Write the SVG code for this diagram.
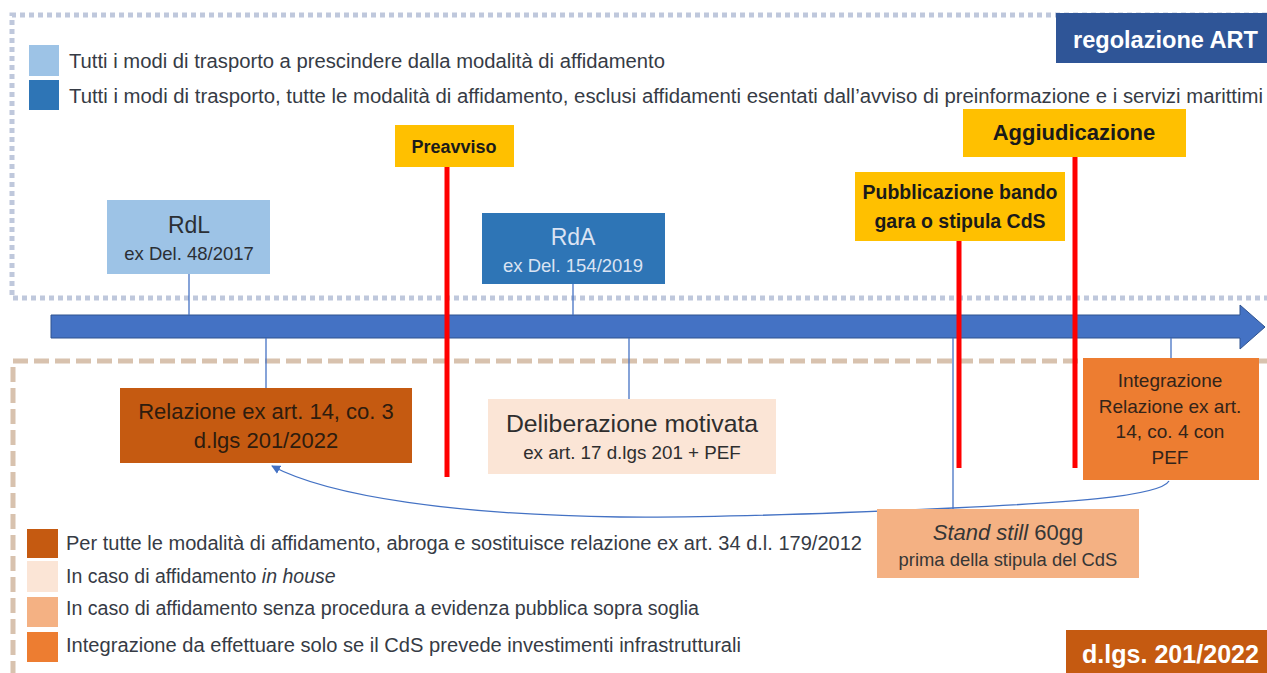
<svg xmlns="http://www.w3.org/2000/svg" width="1267" height="673" viewBox="0 0 1267 673">
<style>
text{font-family:"Liberation Sans",Arial,sans-serif;}
.leg{font-size:19.5px;fill:#363b45;}
.b{font-weight:bold;}
.c{text-anchor:middle;}
.red{stroke:#ff0000;stroke-width:5;fill:none;}
.thin{stroke:#4472c4;stroke-width:1.3;fill:none;}
</style>
<defs>
<marker id="ah" viewBox="0 0 10 10" refX="9" refY="5" markerWidth="9" markerHeight="9" markerUnits="userSpaceOnUse" orient="auto">
<path d="M0,0 L10,5 L0,10 z" fill="#4472c4"/>
</marker>
</defs>
<rect width="1267" height="673" fill="#ffffff"/>

<g id="frames">
<path d="M1267,15 H12 V298 H1267" fill="none" stroke="#bfc8dc" stroke-width="5" stroke-dasharray="5 4"/>
<path d="M1267,361 H13 V673" fill="none" stroke="#d8c2ae" stroke-width="5" stroke-dasharray="15 6"/>
</g>

<g id="legend-top">
<rect x="29" y="45" width="30" height="31" fill="#9dc3e6"/>
<rect x="29" y="80" width="30" height="30" fill="#2e75b6"/>
<text class="leg" x="69" y="68" textLength="596" lengthAdjust="spacingAndGlyphs">Tutti i modi di trasporto a prescindere dalla modalità di affidamento</text>
<text class="leg" x="69" y="103" textLength="1194" lengthAdjust="spacingAndGlyphs">Tutti i modi di trasporto, tutte le modalità di affidamento, esclusi affidamenti esentati dall’avviso di preinformazione e i servizi marittimi</text>
</g>

<g id="regolazione-art">
<rect x="1056" y="13" width="211" height="50" fill="#2f5597"/>
<text class="b" x="1073" y="48" font-size="23" fill="#ffffff" textLength="185" lengthAdjust="spacingAndGlyphs">regolazione ART</text>
</g>

<g id="timeline">
<polygon points="51,315 1240,315 1240,305 1265,327 1240,349 1240,338 51,338" fill="#4472c4" stroke="#2f528f" stroke-width="1"/>
</g>

<g id="connectors">
<line class="thin" x1="189" y1="274" x2="189" y2="315"/>
<line class="thin" x1="573" y1="284" x2="573" y2="315"/>
<line class="thin" x1="266" y1="338" x2="266" y2="388"/>
<line class="thin" x1="629" y1="338" x2="629" y2="399"/>
<line class="thin" x1="1171" y1="338" x2="1171" y2="358"/>
<line class="thin" x1="953" y1="338" x2="953" y2="509"/>
<path class="thin" d="M1169,481 C1160,497 1060,503 953,508 C820,514 700,518 620,517 C460,515 330,497 272,466" marker-end="url(#ah)"/>
<line class="red" x1="447" y1="167" x2="447" y2="477"/>
<line class="red" x1="959" y1="241" x2="959" y2="468"/>
<line class="red" x1="1075" y1="157" x2="1075" y2="468"/>
</g>

<g id="preavviso">
<rect x="395" y="125" width="119" height="42" fill="#ffc000"/>
<text class="b c" x="454" y="153" font-size="18" fill="#1a1a1a">Preavviso</text>
</g>

<g id="aggiudicazione">
<rect x="963" y="109" width="223" height="48" fill="#ffc000"/>
<text class="b c" x="1074" y="140" font-size="22" fill="#1a1a1a">Aggiudicazione</text>
</g>

<g id="pubblicazione">
<rect x="855" y="172" width="210" height="69" fill="#ffc000"/>
<text class="b c" x="960" y="199" font-size="19.5" fill="#1a1a1a">Pubblicazione bando</text>
<text class="b c" x="960" y="228" font-size="19.5" fill="#1a1a1a">gara o stipula CdS</text>
</g>

<g id="rdl">
<rect x="107" y="200" width="163" height="74" fill="#9dc3e6"/>
<text class="c" x="189" y="233" font-size="23" fill="#2b2f35">RdL</text>
<text class="c" x="189" y="260" font-size="18.5" fill="#2b2f35">ex Del. 48/2017</text>
</g>

<g id="rda">
<rect x="482" y="213" width="183" height="71" fill="#2e75b6"/>
<text class="c" x="573" y="245" font-size="23" fill="#dae3f3">RdA</text>
<text class="c" x="573" y="272" font-size="18.5" fill="#dae3f3">ex Del. 154/2019</text>
</g>

<g id="relazione">
<rect x="120" y="388" width="292" height="75" fill="#c55a11"/>
<text class="c" x="266" y="419" font-size="22" fill="#2e1c0e">Relazione ex art. 14, co. 3</text>
<text class="c" x="266" y="448" font-size="22" fill="#2e1c0e">d.lgs 201/2022</text>
</g>

<g id="deliberazione">
<rect x="488" y="399" width="288" height="75" fill="#fbe5d6"/>
<text class="c" x="632" y="432" font-size="24.8" fill="#2e2e2e">Deliberazione motivata</text>
<text class="c" x="632" y="459" font-size="18.8" fill="#2e2e2e">ex art. 17 d.lgs 201 + PEF</text>
</g>

<g id="integrazione">
<rect x="1083" y="358" width="176" height="122" fill="#ed7d31"/>
<text class="c" x="1170" y="387" font-size="19" fill="#33241a">Integrazione</text>
<text class="c" x="1170" y="413" font-size="19" fill="#33241a">Relazione ex art.</text>
<text class="c" x="1170" y="438" font-size="19" fill="#33241a">14, co. 4 con</text>
<text class="c" x="1170" y="464" font-size="19" fill="#33241a">PEF</text>
</g>

<g id="stand-still">
<rect x="877" y="509" width="262" height="69" fill="#f4b183"/>
<text class="c" x="1008" y="540" font-size="22" fill="#363636"><tspan font-style="italic">Stand still</tspan> 60gg</text>
<text class="c" x="1008" y="566" font-size="18.4" fill="#363636">prima della stipula del CdS</text>
</g>

<g id="legend-bottom">
<rect x="27" y="529" width="31" height="29" fill="#c55a11"/>
<rect x="27" y="561" width="31" height="31" fill="#fbe5d6"/>
<rect x="27" y="597" width="31" height="30" fill="#f4b183"/>
<rect x="27" y="632" width="31" height="30" fill="#ed7d31"/>
<text class="leg" x="66" y="550" textLength="796" lengthAdjust="spacingAndGlyphs">Per tutte le modalità di affidamento, abroga e sostituisce relazione ex art. 34 d.l. 179/2012</text>
<text class="leg" x="66" y="583">In caso di affidamento <tspan font-style="italic">in house</tspan></text>
<text class="leg" x="66" y="615" textLength="633" lengthAdjust="spacingAndGlyphs">In caso di affidamento senza procedura a evidenza pubblica sopra soglia</text>
<text class="leg" x="66" y="652" textLength="675" lengthAdjust="spacingAndGlyphs">Integrazione da effettuare solo se il CdS prevede investimenti infrastrutturali</text>
</g>

<g id="dlgs">
<rect x="1066" y="630" width="201" height="43" fill="#c55a11"/>
<text class="b" x="1082" y="663" font-size="25" fill="#ffffff" textLength="177" lengthAdjust="spacingAndGlyphs">d.lgs. 201/2022</text>
</g>
</svg>
